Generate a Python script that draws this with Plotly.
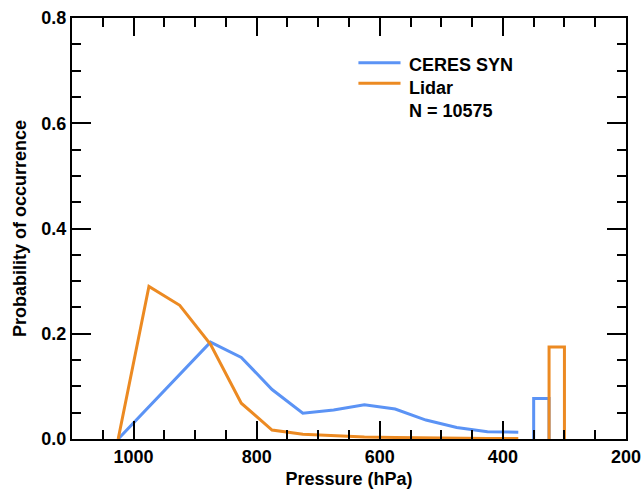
import plotly.graph_objects as go

# Cloud-top pressure bins (hPa) and probability of occurrence
pressure = [1025, 975, 925, 875, 825, 775, 725, 675, 625, 575, 525, 475, 425, 375]
ceres_syn = [0.0, 0.061, 0.122, 0.184, 0.155, 0.094, 0.049, 0.055, 0.065, 0.057, 0.036, 0.022, 0.014, 0.013]
lidar = [0.0, 0.290, 0.254, 0.180, 0.068, 0.017, 0.009, 0.006, 0.004, 0.003, 0.002, 0.002, 0.001, 0.001]

# Extra single-bin columns drawn as open steps at the right of the axis
ceres_bin_edges = [350, 325]
ceres_bin_value = 0.077
lidar_bin_edges = [325, 300]
lidar_bin_value = 0.175

sample_count = 10575

BLUE = "#5B93F5"
ORANGE = "#EC8A22"
FONT = dict(family="Liberation Sans, Arial, Helvetica, sans-serif", size=18, color="black", weight="bold")


def open_step(edges, value):
    left, right = edges
    return [left, left, right, right], [0, value, value, 0]


fig = go.Figure()

fig.add_trace(go.Scatter(x=pressure, y=ceres_syn, mode="lines",
                         line=dict(color=BLUE, width=3), name="CERES SYN"))
bx, by = open_step(ceres_bin_edges, ceres_bin_value)
fig.add_trace(go.Scatter(x=bx, y=by, mode="lines",
                         line=dict(color=BLUE, width=3), showlegend=False))

fig.add_trace(go.Scatter(x=pressure, y=lidar, mode="lines",
                         line=dict(color=ORANGE, width=3), name="Lidar"))
ox, oy = open_step(lidar_bin_edges, lidar_bin_value)
fig.add_trace(go.Scatter(x=ox, y=oy, mode="lines",
                         line=dict(color=ORANGE, width=3), showlegend=False))

# Hand-placed key inside the plot area
key_rows = [("CERES SYN", BLUE, 0.894, 0.889), ("Lidar", ORANGE, 0.845, 0.834)]
for label, color, y_line, y_text in key_rows:
    fig.add_shape(type="line", xref="paper", yref="paper",
                  x0=0.517, x1=0.593, y0=y_line, y1=y_line,
                  line=dict(color=color, width=3))
    fig.add_annotation(text=label, xref="paper", yref="paper", x=0.605, y=y_text,
                       xanchor="left", yanchor="middle", showarrow=False, font=FONT)
fig.add_annotation(text=f"N = {sample_count}", xref="paper", yref="paper", x=0.605, y=0.780,
                   xanchor="left", yanchor="middle", showarrow=False, font=FONT)

axis_common = dict(
    showline=True, linewidth=2, linecolor="black", mirror="allticks",
    ticks="inside", tickwidth=2, tickcolor="black",
    showgrid=False, zeroline=False, tickfont=FONT, automargin=False,
)

fig.update_xaxes(
    range=[1100, 200], tick0=0, dtick=200, ticklen=18,
    minor=dict(dtick=50, tick0=0, ticks="inside", ticklen=9, tickwidth=2, tickcolor="black", showgrid=False),
    title=dict(text="Pressure (hPa)", font=FONT, standoff=8),
    **axis_common,
)
fig.update_yaxes(
    range=[0, 0.8], tick0=0, dtick=0.2, tickformat=".1f", ticklen=19,
    minor=dict(dtick=0.05, tick0=0, ticks="inside", ticklen=9, tickwidth=2, tickcolor="black", showgrid=False),
    title=dict(text="Probability of occurrence", font=FONT, standoff=10),
    **axis_common,
)

fig.update_layout(
    width=643, height=489,
    margin=dict(l=72, r=17, t=18, b=50),
    paper_bgcolor="white", plot_bgcolor="white",
    showlegend=False,
    font=FONT,
)

fig.write_html("out.html")
